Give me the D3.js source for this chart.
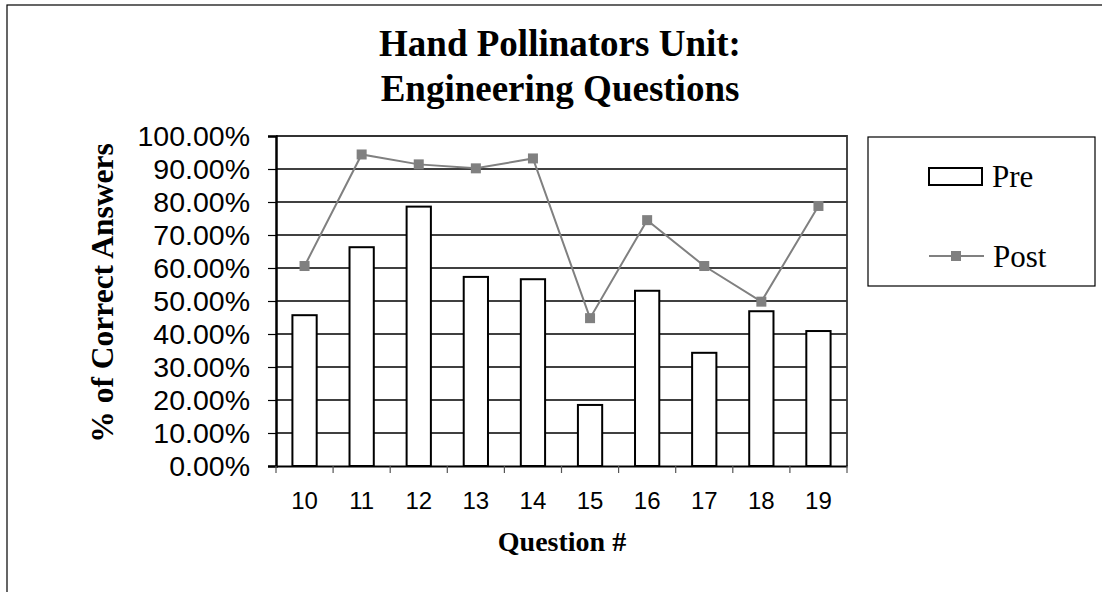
<!DOCTYPE html>
<html>
<head>
<meta charset="utf-8">
<script src="https://cdn.jsdelivr.net/npm/d3@7"></script>
<style>
  body { margin: 0; background: #fff; }
  svg { display: block; }
</style>
</head>
<body>
<svg id="chart" width="1102" height="592"></svg>
<script>
// chart data
const questions = ["10", "11", "12", "13", "14", "15", "16", "17", "18", "19"];
const preValues = [0.457, 0.663, 0.786, 0.573, 0.566, 0.185, 0.531, 0.343, 0.469, 0.409];
const postValues = [0.606, 0.944, 0.914, 0.902, 0.932, 0.448, 0.745, 0.606, 0.498, 0.788];
const yTicks = [0, 0.1, 0.2, 0.3, 0.4, 0.5, 0.6, 0.7, 0.8, 0.9, 1.0];
const titleLines = ["Hand Pollinators Unit:", "Engineering Questions"];

const svg = d3.select("#chart");
const margin = { top: 136, right: 255, bottom: 126, left: 276 };
const width = 1102, height = 592;
const plotW = width - margin.left - margin.right;
const plotH = height - margin.top - margin.bottom;

const serif = "'Liberation Serif', 'Times New Roman', serif";
const sans = "'Liberation Sans', Arial, sans-serif";

// outer frame (right/bottom run off the page)
svg.append("rect")
    .attr("x", 7).attr("y", 5)
    .attr("width", 1200).attr("height", 700)
    .attr("fill", "none").attr("stroke", "#000").attr("stroke-width", 1.2);

const x = d3.scaleBand().domain(questions).range([0, plotW]).paddingInner(0.575).paddingOuter(0.2875);
const xBand = d3.scaleBand().domain(questions).range([0, plotW]);
const y = d3.scaleLinear().domain([0, 1]).range([plotH, 0]);

const g = svg.append("g").attr("transform", `translate(${margin.left},${margin.top})`);

// gridlines
g.selectAll(".grid")
    .data(yTicks.slice(1))
    .enter().append("line")
    .attr("x1", 0).attr("x2", plotW)
    .attr("y1", d => y(d)).attr("y2", d => y(d))
    .attr("stroke", "#000").attr("stroke-width", 1.5);

// plot border (top/right)
g.append("path")
    .attr("d", `M0,0H${plotW}V${plotH}`)
    .attr("fill", "none").attr("stroke", "#333").attr("stroke-width", 1.8);

// bars
g.selectAll(".bar")
    .data(preValues)
    .enter().append("rect")
    .attr("x", (d, i) => x(questions[i]))
    .attr("y", d => y(d))
    .attr("width", x.bandwidth())
    .attr("height", d => plotH - y(d))
    .attr("fill", "#fff").attr("stroke", "#000").attr("stroke-width", 2);

// y axis
const yAxis = g.append("g")
    .call(d3.axisLeft(y).tickValues(yTicks).tickFormat(d3.format(".2%")).tickSize(8).tickPadding(18));
yAxis.select(".domain").attr("stroke", "#000").attr("stroke-width", 2.5);
yAxis.selectAll(".tick line").attr("stroke", "#000").attr("stroke-width", 1.2);
yAxis.selectAll("text").attr("font-family", sans).attr("font-size", 28.5).attr("fill", "#000");

// x axis
const xAxis = g.append("g")
    .attr("transform", `translate(0,${plotH})`)
    .call(d3.axisBottom(xBand).tickSize(0).tickPadding(26));
xAxis.select(".domain").attr("stroke", "#000").attr("stroke-width", 2);
xAxis.selectAll("text").attr("font-family", sans).attr("font-size", 24).attr("fill", "#000");
xAxis.selectAll(".xtick")
    .data(d3.range(questions.length + 1))
    .enter().append("line")
    .attr("x1", i => i * xBand.step()).attr("x2", i => i * xBand.step())
    .attr("y1", 0).attr("y2", 7)
    .attr("stroke", "#555").attr("stroke-width", 1.2);

// post line + markers
const line = d3.line()
    .x((d, i) => xBand(questions[i]) + xBand.bandwidth() / 2)
    .y(d => y(d));
g.append("path")
    .datum(postValues)
    .attr("d", line)
    .attr("fill", "none").attr("stroke", "#808080").attr("stroke-width", 2);
g.selectAll(".mark")
    .data(postValues)
    .enter().append("rect")
    .attr("x", (d, i) => xBand(questions[i]) + xBand.bandwidth() / 2 - 5)
    .attr("y", d => y(d) - 5)
    .attr("width", 10).attr("height", 10)
    .attr("fill", "#808080");

// title
svg.append("text")
    .attr("x", 560).attr("y", 56)
    .attr("text-anchor", "middle")
    .attr("font-family", serif).attr("font-weight", "bold").attr("font-size", 37)
    .selectAll("tspan").data(titleLines).enter().append("tspan")
    .attr("x", 560).attr("dy", (d, i) => i === 0 ? 0 : 45)
    .text(d => d);

// axis titles
svg.append("text")
    .attr("transform", "translate(113,293) rotate(-90)")
    .attr("text-anchor", "middle")
    .attr("font-family", serif).attr("font-weight", "bold").attr("font-size", 31.5)
    .text("% of Correct Answers");
svg.append("text")
    .attr("x", 562).attr("y", 551)
    .attr("text-anchor", "middle")
    .attr("font-family", serif).attr("font-weight", "bold").attr("font-size", 28)
    .text("Question #");

// legend
const lg = svg.append("g").attr("transform", "translate(868,137)");
lg.append("rect")
    .attr("width", 227).attr("height", 149)
    .attr("fill", "#fff").attr("stroke", "#000").attr("stroke-width", 1.2);
lg.append("rect")
    .attr("x", 61).attr("y", 31).attr("width", 53).attr("height", 17)
    .attr("fill", "#fff").attr("stroke", "#000").attr("stroke-width", 2);
lg.append("text")
    .attr("x", 124).attr("y", 50)
    .attr("font-family", serif).attr("font-size", 31)
    .text("Pre");
lg.append("line")
    .attr("x1", 61).attr("x2", 116).attr("y1", 119).attr("y2", 119)
    .attr("stroke", "#808080").attr("stroke-width", 2);
lg.append("rect")
    .attr("x", 83).attr("y", 114).attr("width", 10).attr("height", 10)
    .attr("fill", "#808080");
lg.append("text")
    .attr("x", 125).attr("y", 130)
    .attr("font-family", serif).attr("font-size", 31)
    .text("Post");
</script>
</body>
</html>
